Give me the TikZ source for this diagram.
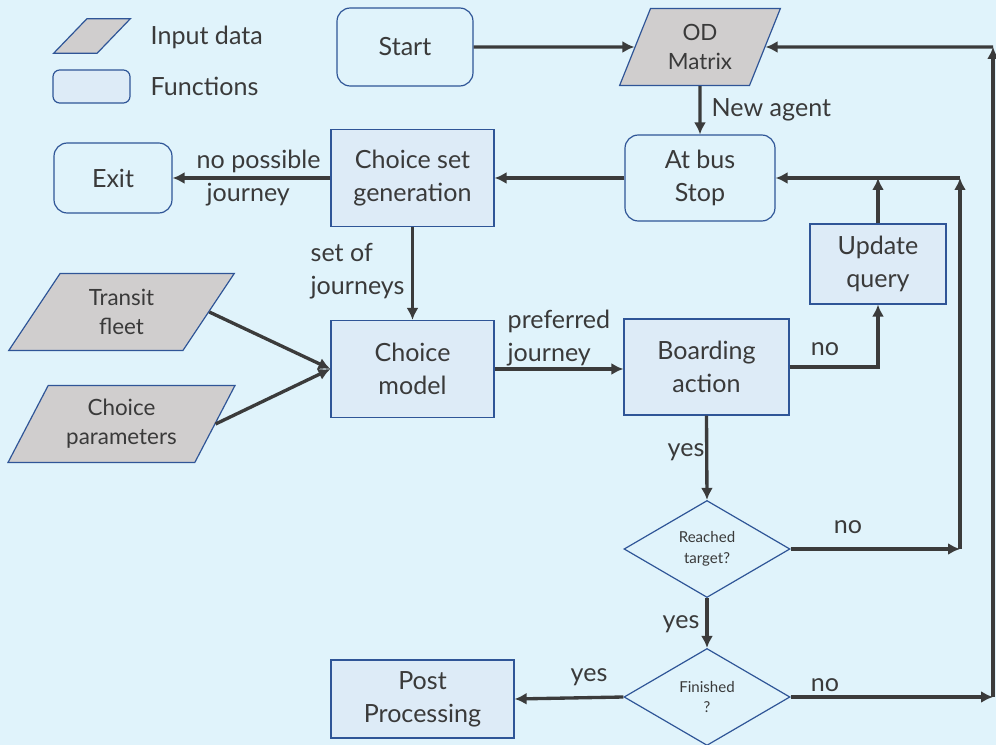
\documentclass[tikz,border=0pt]{standalone}
\usepackage{fontspec}
\setmainfont{Lato}
\usetikzlibrary{shapes.geometric,arrows.meta}
\definecolor{bgblue}{HTML}{E0F3FB}
\definecolor{fnfill}{HTML}{DDEBF7}
\definecolor{infill}{HTML}{D0CECE}
\definecolor{edgeblue}{HTML}{2F5597}
\definecolor{txtgray}{HTML}{3A3A3A}
\definecolor{arrgray}{HTML}{3B3B3B}

\begin{document}
\begin{tikzpicture}[x=0.75pt,y=-0.75pt,
  txt/.style={text=txtgray,font=\fontsize{18.8}{24.8}\selectfont,align=center},
  func/.style={txt,draw=edgeblue,fill=fnfill,line width=0.9pt,inner sep=0pt},
  rfunc/.style={func,fill=bgblue,rounded corners=10pt},
  inp/.style={txt,font=\fontsize{16.8}{22}\selectfont,draw=edgeblue,fill=infill,
    line width=0.9pt,trapezium,trapezium stretches=true,inner sep=2pt},
  dec/.style={txt,font=\fontsize{11.3}{15.5}\selectfont,diamond,draw=edgeblue,
    line width=0.9pt,inner sep=0pt},
  arr/.style={draw=arrgray,line width=2.5pt,-{Latex[length=9pt,width=9pt]}}]
\fill[bgblue] (0,0) rectangle (996,745);
\useasboundingbox (0,0) rectangle (996,745);

% legend
\node[inp,trapezium left angle=63,trapezium right angle=117,
  minimum width=57.75pt,minimum height=24.75pt] (leginp) at (92,36) {\strut};
\node[txt,anchor=west] (leginptxt) at (146,37) {Input data};
\node[func,rounded corners=5pt,minimum width=57.75pt,minimum height=24.75pt] (legfn) at (91.5,86.5) {};
\node[txt,anchor=west] (legfntxt) at (146,86) {Functions};

% nodes
\node[rfunc,minimum width=102pt,minimum height=58.5pt] (start) at (405,47) {Start};
\node[inp,trapezium left angle=67,trapezium right angle=113,
  minimum width=120.75pt,minimum height=57.75pt] (odm) at (700,47) {OD\\Matrix};
\node[rfunc,minimum width=112.5pt,minimum height=64.5pt] (bus) at (700,178) {At bus\\Stop};
\node[func,minimum width=122.25pt,minimum height=72.75pt] (gen) at (412.5,178) {Choice set\\generation};
\node[rfunc,minimum width=88.5pt,minimum height=52.5pt] (exit) at (113,178) {Exit};
\node[func,minimum width=122.25pt,minimum height=72.75pt] (model) at (412.5,369) {Choice\\model};
\node[inp,trapezium left angle=60,trapezium right angle=120,
  minimum width=170.25pt,minimum height=57.75pt] (fleet) at (121.5,312) {Transit\\fleet};
\node[inp,trapezium left angle=60,trapezium right angle=120,
  minimum width=170.25pt,minimum height=57.75pt] (params) at (121.5,424) {Choice\\parameters};
\node[func,minimum width=123.75pt,minimum height=72pt] (board) at (706.5,367) {Boarding\\action};
\node[func,minimum width=102pt,minimum height=60pt] (update) at (878,264) {Update\\query};
\node[dec,minimum width=124.5pt,minimum height=72.75pt] (reach) at (707,549) {Reached\\target?};
\node[dec,minimum width=124.5pt,minimum height=72.75pt] (fin) at (707,697) {Finished\\?};
\node[func,minimum width=137.25pt,minimum height=58.5pt] (post) at (422.5,699) {Post\\Processing};

% labels
\node[txt,anchor=west] (lagent) at (707,110) {New agent};
\node[txt,anchor=west,align=left] (lnone) at (192,178) {no possible\\\hspace*{7.5pt}journey};
\node[txt,anchor=west,align=left] (lset) at (306,271) {set of\\journeys};
\node[txt,anchor=west,align=left] (lpref) at (503,338) {preferred\\journey};
\node[txt] (lno1) at (825,349) {no};
\node[txt] (lyes1) at (686,452) {yes};
\node[txt] (lno2) at (848,527) {no};
\node[txt] (lyes2) at (681,624) {yes};
\node[txt] (lyes3) at (589,677) {yes};
\node[txt] (lno3) at (825,685) {no};

\coordinate (loopa) at (960,549);
\coordinate (loopb) at (960,178);
\coordinate (loopc) at (993,697);
\coordinate (loopd) at (993,47);

% connectors
\draw[arr] (start.east) -- (odm.west);
\draw[arr] (odm.south) -- (bus.north);
\draw[arr] (bus.west) -- (gen.east);
\draw[arr] (gen.west) -- (exit.east);
\draw[arr] (gen.south) -- (model.north);
\draw[arr] (fleet.east) -- (model.west);
\draw[arr] (params.east) -- (model.west);
\draw[arr] (model.east) -- (model.east -| board.west);
\draw[arr] (board.east) -| (update.south);
\draw[arr] (update.north) -- (update.north |- bus.east);
\draw[arr] (board.south) -- (reach.north);
\draw[arr] (reach.east) -- (loopa);
\draw[arr] (loopa) -- (loopb);
\draw[arr] (loopb) -- (bus.east);
\draw[arr] (reach.south) -- (fin.north);
\draw[arr] (fin.west) -- (post.east);
\draw[arr] (fin.east) -- (loopc);
\draw[arr] (loopc) -- (loopd);
\draw[arr] (loopd) -- (odm.east);
\end{tikzpicture}
\end{document}
